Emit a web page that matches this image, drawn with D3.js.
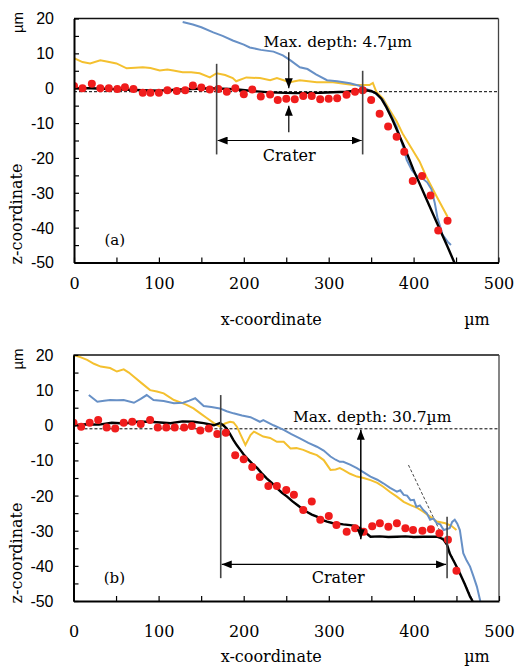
<!DOCTYPE html>
<html>
<head>
<meta charset="utf-8">
<script src="https://cdn.jsdelivr.net/npm/d3@7"></script>
<style>
  body { margin: 0; background: #fff; }
  svg { display: block; background: #fff; }
</style>
</head>
<body>
<svg id="chart" width="520" height="667"></svg>
<script>
(function () {
    'use strict';

    // axis values
    var xTicks = [0, 100, 200, 300, 400, 500];
    var zTicks = [20, 10, 0, -10, -20, -30, -40, -50];

    // ---- panel (a) ----
    var blueA = [[128, 19], [140, 18.3], [150, 17.5], [164, 16], [175, 15], [187, 13.7], [200, 12.5], [207, 11.7],
        [220, 11], [235, 10.5], [246, 9.4], [255, 8], [266, 6], [275, 5.5], [285, 4], [298, 2.3], [310, 2],
        [325, 1.4], [335, 0.8], [345, -0.3], [355, -1.5], [364, -3.4], [372, -7], [380, -11], [386, -15.5],
        [392, -20.6], [398, -23.5], [403, -25], [411, -26], [416, -27], [421, -29], [425, -33], [428, -37],
        [434, -42], [440, -44], [444, -45]];
    var yellowA = [[0, 8.6], [10, 7.5], [19, 7.1], [31, 8], [40, 7.6], [50, 7.1], [62, 5.7], [72, 5.9], [81, 6],
        [90, 5.8], [101, 5.1], [110, 5.4], [117, 5.1], [128, 4.6], [138, 4.6], [148, 4.3], [160, 3.1], [168, 4.3],
        [178, 3.8], [187, 2.9], [191, 2], [203, 3.1], [219, 2.9], [231, 2.3], [239, 2.9], [254, 1.7], [266, 2.3],
        [286, 1.7], [305, 1.7], [329, 0.9], [348, 0.9], [352, 1.5], [356, -1], [364, -3], [372, -6.3], [380, -9.5],
        [387, -13], [397, -17], [407, -21], [415, -25.4], [427, -31], [440, -36.9]];
    var blackA = [[0, 0], [20, 0], [50, -0.3], [80, -0.6], [100, -0.7], [130, -0.3], [160, 0], [190, -0.3],
        [210, -0.8], [230, -1.2], [260, -1.4], [290, -1.3], [320, -1], [340, -0.5], [350, -0.8], [356, -1.5],
        [362, -3], [368, -5.5], [375, -9], [383, -13.5], [391, -18], [400, -23.5], [410, -29], [420, -34.5],
        [430, -40], [440, -45.5], [448, -50]];
    var redA = [[0, 0.6], [10, 0], [21, 1.3], [31, 0], [41, 0], [51, -0.2], [60, 0.3], [70, -0.2], [81, -1.3],
        [90, -1.3], [100, -1.3], [110, -0.6], [121, -0.8], [131, -0.6], [140, 0.8], [150, 0.2], [160, -0.4],
        [170, -0.2], [180, -1], [190, 0], [200, -1.7], [210, -0.4], [220, -2.4], [231, -1.8], [240, -3.4],
        [250, -3], [260, -3.2], [270, -2.2], [280, -2.2], [290, -3.2], [300, -3], [310, -2.9], [321, -1.9],
        [331, -1], [340, -0.6], [350, -3.4], [360, -7.3], [370, -11], [380, -13.9], [389, -18.2], [399, -26.6],
        [410, -25.2], [420, -30.8], [429, -40.8], [440, -38]];
    // annotations (data units): crater edges [x, zTop, zBottom], arrow z, depth arrow
    var craterEdgesA = [[168, 7, -19], [340, 5, -19]];
    var craterArrowZA = -15;
    var depthArrowA = [253, 10.3, 0, -12.6, -5];
    var depthTextA = 'Max. depth: 4.7\u00b5m';

    // ---- panel (b) ----
    var blueB = [[18, 8.6], [28, 6.7], [36, 7], [43, 7.2], [51, 7.1], [59, 7.2], [71, 6.4], [79, 7.5], [86, 8.6],
        [94, 7.2], [106, 6.9], [118, 6.3], [129, 6.4], [136, 7], [143, 7.7], [153, 5.5], [162, 5.2], [172, 4.8],
        [180, 4], [188, 3.4], [198, 2.8], [208, 2.3], [219, 1], [223, 1.5], [235, 0], [247, -1.3], [256, -2.5],
        [266, -3.7], [276, -5], [286, -6.1], [294, -7.2], [302, -8.9], [308, -9.8], [313, -10.4], [317, -10.4],
        [325, -11.2], [333, -12.2], [341, -13.4], [349, -14.6], [357, -15.5], [364, -16.5], [372, -17.8],
        [380, -18.9], [384, -18.5], [388, -19.8], [392, -20], [396, -21.3], [400, -21.2], [403, -23.2],
        [407, -22.8], [411, -24.1], [415, -25], [419, -26.9], [423, -26.5], [427, -27.9], [431, -28.2],
        [435, -29.8], [442, -29.3], [445, -27.5], [448, -26.9], [451, -28], [454, -29.8], [458, -36.4],
        [462, -38.5], [466, -40.2], [470, -43], [474, -45.9], [478, -50]];
    var yellowB = [[0, 20], [8, 19.4], [16, 18.6], [24, 17.5], [32, 16.7], [43, 16.3], [51, 15.3], [59, 15.9],
        [65, 15], [71, 13.8], [80, 12], [90, 10], [98, 9.6], [106, 9.1], [118, 7.2], [125, 6.6], [133, 5.8],
        [141, 4.8], [149, 3.4], [157, 2], [165, 0.6], [172, -0.4], [178, 0.5], [184, 1], [188, 0.8], [192, -0.4],
        [197, -3], [202, -5.6], [208, -2.8], [212, -1.8], [223, -3.2], [231, -3.6], [239, -4.7], [247, -4.7],
        [255, -6.6], [262, -6.5], [270, -7], [278, -7.8], [286, -8.5], [294, -9.9], [302, -12.7], [308, -12.6],
        [313, -12.2], [317, -12.7], [325, -13.8], [333, -14.6], [341, -15], [349, -15.6], [357, -16.4],
        [364, -17.5], [372, -19], [380, -20.3], [388, -21.8], [396, -22.7], [404, -23.5], [411, -24.6],
        [419, -26], [427, -27.4], [437, -27.9], [444, -28.6], [450, -29.8]];
    var blackB = [[0, 0], [15, 0.3], [30, 0.2], [45, 0.7], [60, 0.5], [75, 1], [90, 1], [102, 0.8], [114, 0.6],
        [128, 1.1], [141, 1], [153, 0.6], [165, 0], [172, 0.6], [176, 0], [180, -0.9], [184, -2.5], [188, -4.2],
        [192, -5.7], [196, -7], [200, -8.3], [204, -9.4], [210, -10.9], [216, -12.2], [221, -13.6], [227, -15.1],
        [233, -16.4], [239, -17.9], [245, -19.2], [251, -20.3], [257, -21.6], [263, -22.7], [268, -23.6],
        [274, -24.6], [280, -25.4], [286, -26], [292, -26.9], [298, -27.4], [304, -27.8], [309, -27.9],
        [317, -28.2], [325, -28.4], [331, -28.6], [337, -29.3], [343, -30.5], [349, -31.7], [360, -31.6],
        [370, -31.8], [380, -31.7], [390, -31.6], [400, -31.8], [411, -31.7], [420, -31.7], [427, -31.7],
        [431, -32], [435, -32.6], [439, -34], [442, -36.4], [448, -39.2], [454, -42.1], [460, -45.3],
        [466, -48.8], [469, -50]];
    var redB = [[0, 0.7], [9, -0.4], [19, 0.7], [29, 1.5], [39, -0.6], [49, -0.9], [59, 0.7], [69, 1], [79, 0.4],
        [90, 1.5], [99, -0.6], [109, -0.6], [119, -0.6], [130, -0.6], [139, -0.2], [149, -1.5], [159, -0.9],
        [169, -2.5], [179, -2.1], [190, -8.5], [200, -9.7], [210, -11.9], [219, -14.7], [229, -17.3],
        [239, -17.3], [250, -18.4], [259, -19.8], [270, -24.1], [280, -21.7], [290, -26.9], [300, -25.8],
        [309, -28.4], [321, -30.3], [331, -29.3], [341, -30.3], [351, -28.7], [360, -27.9], [370, -28.9],
        [380, -27.9], [390, -29.3], [399, -29.8], [410, -30], [420, -29.6], [430, -30.7], [440, -32.6],
        [450, -41.4]];
    var craterEdgesB = [[173, 8.6, -43.5], [439, -26, -43.5]];
    var craterArrowZB = -39.6;
    var tangentB = [[393.6, -11.3], [470, -50.2]];
    var depthArrowB = [337.6, -1.3, -32.4];
    var depthTextB = 'Max. depth: 30.7\u00b5m';

    var svg = d3.select('#chart');
    var defs = svg.append('defs');
    defs.append('marker')
        .attr('id', 'arrow')
        .attr('viewBox', '0 0 10 8')
        .attr('refX', 10).attr('refY', 4)
        .attr('markerWidth', 10).attr('markerHeight', 8)
        .attr('markerUnits', 'userSpaceOnUse')
        .attr('orient', 'auto-start-reverse')
        .append('path').attr('d', 'M0,0L10,4L0,8Z').attr('fill', '#000');

    var serif = '"DejaVu Serif", "Liberation Serif", serif';
    var sans = '"Liberation Sans", Arial, sans-serif';

    function drawPanel(p) {
        var x = d3.scaleLinear().domain([0, 500]).range([p.left, p.right]);
        var z = d3.scaleLinear().domain([-50, 20]).range([p.bottom, p.top]);
        var g = svg.append('g');

        defs.append('clipPath').attr('id', 'clip-' + p.name)
            .append('rect')
            .attr('x', p.left).attr('y', p.top)
            .attr('width', p.right - p.left).attr('height', p.bottom - p.top);

        // frame top + right
        g.append('line').attr('x1', p.left).attr('x2', p.right).attr('y1', p.top).attr('y2', p.top)
            .attr('stroke', '#111').attr('stroke-width', 1.5);
        g.append('line').attr('x1', p.right).attr('x2', p.right).attr('y1', p.top).attr('y2', p.bottom)
            .attr('stroke', '#444').attr('stroke-width', 1.3);

        // reference level
        g.append('line')
            .attr('x1', x(p.dashFrom)).attr('x2', x(500))
            .attr('y1', z(-1)).attr('y2', z(-1))
            .attr('stroke', '#000').attr('stroke-width', 1).attr('stroke-dasharray', '3,2');

        var line = d3.line().x(function (d) { return x(d[0]); }).y(function (d) { return z(d[1]); });
        var plot = g.append('g').attr('clip-path', 'url(#clip-' + p.name + ')');

        if (p.tangent) {
            plot.append('path').datum(p.tangent).attr('d', line)
                .attr('fill', 'none').attr('stroke', '#333').attr('stroke-width', 0.9)
                .attr('stroke-dasharray', '3,2');
        }
        plot.append('path').datum(p.yellow).attr('d', line)
            .attr('fill', 'none').attr('stroke', '#f4c02f').attr('stroke-width', 2);
        plot.append('path').datum(p.blue).attr('d', line)
            .attr('fill', 'none').attr('stroke', '#6790c6').attr('stroke-width', 2);
        plot.append('path').datum(p.black).attr('d', line)
            .attr('fill', 'none').attr('stroke', '#000').attr('stroke-width', 2.4);
        plot.selectAll('circle').data(p.red).enter().append('circle')
            .attr('cx', function (d) { return x(d[0]); })
            .attr('cy', function (d) { return z(d[1]); })
            .attr('r', 4)
            .attr('fill', '#f01c1c');

        // crater edges
        g.selectAll('line.edge').data(p.edges).enter().append('line')
            .attr('class', 'edge')
            .attr('x1', function (d) { return x(d[0]); })
            .attr('x2', function (d) { return x(d[0]); })
            .attr('y1', function (d) { return z(d[1]); })
            .attr('y2', function (d) { return z(d[2]); })
            .attr('stroke', '#444').attr('stroke-width', 1.6);

        // crater arrow
        g.append('line')
            .attr('x1', x(p.edges[0][0]) + 1).attr('x2', x(p.edges[1][0]) - 1)
            .attr('y1', z(p.arrowZ)).attr('y2', z(p.arrowZ))
            .attr('stroke', '#000').attr('stroke-width', 1.2)
            .attr('marker-start', 'url(#arrow)').attr('marker-end', 'url(#arrow)');
        g.append('text')
            .attr('x', x(p.craterText[0])).attr('y', z(p.craterText[1]))
            .attr('text-anchor', 'middle')
            .style('font-family', serif).style('font-size', '16px')
            .text('Crater');

        // depth arrows
        var dp = p.depth;
        if (dp.length === 5) {
            g.append('line').attr('x1', x(dp[0])).attr('x2', x(dp[0]))
                .attr('y1', z(dp[1])).attr('y2', z(dp[2]))
                .attr('stroke', '#000').attr('stroke-width', 1.2).attr('marker-end', 'url(#arrow)');
            g.append('line').attr('x1', x(dp[0])).attr('x2', x(dp[0]))
                .attr('y1', z(dp[3])).attr('y2', z(dp[4]))
                .attr('stroke', '#000').attr('stroke-width', 1.2).attr('marker-end', 'url(#arrow)');
        } else {
            g.append('line').attr('x1', x(dp[0])).attr('x2', x(dp[0]))
                .attr('y1', z(dp[1])).attr('y2', z(dp[2]))
                .attr('stroke', '#000').attr('stroke-width', 1.5)
                .attr('marker-start', 'url(#arrow)').attr('marker-end', 'url(#arrow)');
        }
        g.append('text')
            .attr('x', x(p.depthPos[0])).attr('y', z(p.depthPos[1]))
            .attr('text-anchor', 'middle')
            .style('font-family', serif).style('font-size', '15.5px')
            .text(p.depthText);

        g.append('text')
            .attr('x', x(48)).attr('y', z(-43.5)).attr('dy', '0.35em')
            .attr('text-anchor', 'middle')
            .style('font-family', serif).style('font-size', '15px')
            .text(p.label);

        // axes
        var zAxis = d3.axisLeft(z)
            .tickValues(d3.range(-50, 21, 5))
            .tickSizeInner(-5).tickSizeOuter(0).tickPadding(20)
            .tickFormat(function (d) { return zTicks.indexOf(d) >= 0 ? String(d) : ''; });
        var ga = g.append('g').attr('transform', 'translate(' + p.left + ',0)').call(zAxis);
        ga.select('.domain').attr('stroke', '#000').attr('stroke-width', 2);
        ga.selectAll('.tick line').attr('stroke', '#000').attr('stroke-width', 1.2);
        ga.selectAll('.tick text').attr('fill', '#000').attr('dy', '0.34em')
            .style('font-family', sans).style('font-size', '16px');

        var xAxis = d3.axisBottom(x)
            .tickValues(d3.range(0, 501, 50))
            .tickSizeInner(-5).tickSizeOuter(0).tickPadding(p.xPad)
            .tickFormat(function (d) { return xTicks.indexOf(d) >= 0 ? String(d) : ''; });
        var gx = g.append('g').attr('transform', 'translate(0,' + p.bottom + ')').call(xAxis);
        gx.select('.domain').attr('stroke', '#000').attr('stroke-width', 2);
        gx.selectAll('.tick line').attr('stroke', '#000').attr('stroke-width', 1.2);
        gx.selectAll('.tick text').attr('fill', '#000')
            .style('font-family', serif).style('font-size', '16px');

        // axis titles
        g.append('text')
            .attr('x', (p.left + p.right) / 2 - 15).attr('y', p.xTitleY)
            .attr('text-anchor', 'middle')
            .style('font-family', serif).style('font-size', '16px')
            .text('x-coordinate');
        g.append('text')
            .attr('x', 477).attr('y', p.xTitleY)
            .attr('text-anchor', 'middle')
            .style('font-family', serif).style('font-size', '16px')
            .text('\u00b5m');
        g.append('text')
            .attr('transform', 'translate(22,' + p.zTitleY + ') rotate(-90)')
            .attr('text-anchor', 'middle')
            .style('font-family', serif).style('font-size', '16px')
            .text('z-coordinate');
        g.append('text')
            .attr('transform', 'translate(23,' + (p.top + 4) + ') rotate(-90)')
            .attr('text-anchor', 'middle')
            .style('font-family', sans).style('font-size', '15px')
            .text('\u00b5m');
    }

    drawPanel({
        name: 'a', label: '(a)',
        left: 74, right: 498.5, top: 18.5, bottom: 262.5,
        xPad: 15, xTitleY: 325, zTitleY: 214, dashFrom: 0,
        blue: blueA, yellow: yellowA, black: blackA, red: redA,
        edges: craterEdgesA, arrowZ: craterArrowZA, craterText: [253.5, -20.9],
        depth: depthArrowA, depthText: depthTextA, depthPos: [310.6, 11.8]
    });

    drawPanel({
        name: 'b', label: '(b)',
        left: 73.5, right: 499, top: 355, bottom: 601,
        xPad: 25, xTitleY: 662, zTitleY: 553, dashFrom: 7,
        blue: blueB, yellow: yellowB, black: blackB, red: redB, tangent: tangentB,
        edges: craterEdgesB, arrowZ: craterArrowZB, craterText: [311, -44.9],
        depth: depthArrowB, depthText: depthTextB, depthPos: [351, 0.9]
    });
})();
</script>
</body>
</html>
